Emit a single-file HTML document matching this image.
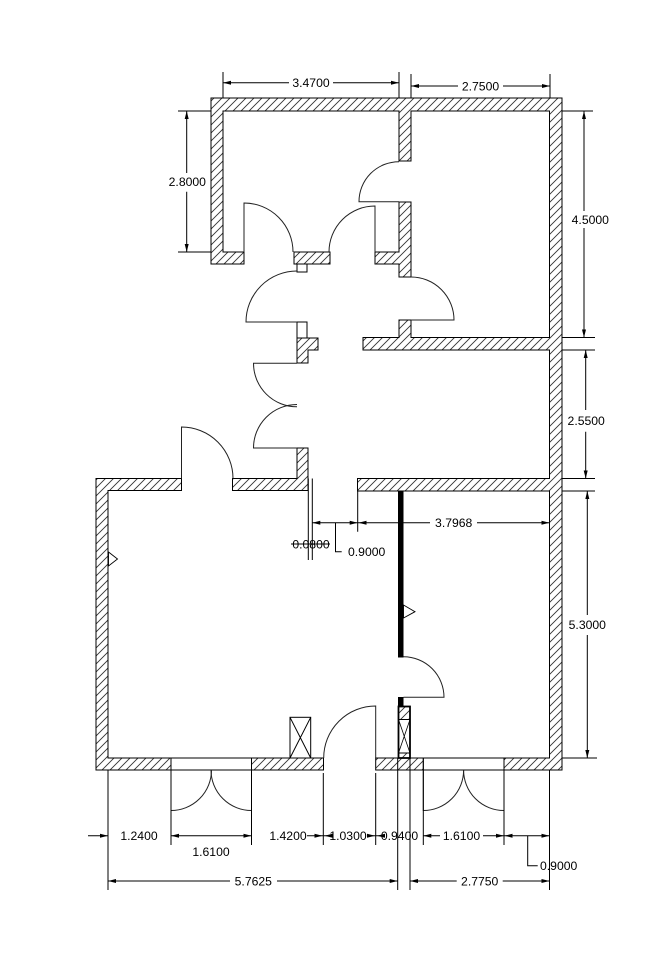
<!DOCTYPE html>
<html><head><meta charset="utf-8"><style>
html,body{margin:0;padding:0;background:#fff;}
svg{display:block;}
text{font-family:"Liberation Sans",Arial,sans-serif;font-size:12.2px;fill:#000;}
</style></head><body>
<svg width="670" height="960" viewBox="0 0 670 960" xmlns="http://www.w3.org/2000/svg">
<defs>
<pattern id="h" patternUnits="userSpaceOnUse" width="8" height="8">
<path d="M0,8 L8,0 M-2,2 L2,-2 M6,10 L10,6" stroke="#333" stroke-width="0.9"/>
</pattern>
</defs>
<rect width="670" height="960" fill="#fff"/>

<!-- walls -->
<g fill="url(#h)" stroke="#000" stroke-width="1">
<path d="M211,98 L562,98 L562,770 L504,770 L504,758 L549.5,758 L549.5,491 L357.5,491 L357.5,478.5 L549.5,478.5 L549.5,350 L363,350 L363,337.5 L399,337.5 L399,320 L411,320 L411,337.5 L549.5,337.5 L549.5,111 L411,111 L411,161 L399,161 L399,111 L223,111 L223,252 L244,252 L244,264 L211,264 Z"/>
<path d="M375,252 L399,252 L399,202 L411,202 L411,277 L399,277 L399,264 L375,264 Z"/>
<rect x="294" y="252" width="36" height="12"/>
<path d="M297,338 L318,338 L318,350 L308,350 L308,363 L297,363 Z"/>
<path d="M96,478.5 L181.5,478.5 L181.5,490.5 L108,490.5 L108,758 L171,758 L171,770 L96,770 Z"/>
<path d="M232.5,478.5 L297,478.5 L297,448 L308,448 L308,490.5 L232.5,490.5 Z"/>
<rect x="251.5" y="758" width="72" height="12"/>
<rect x="375.7" y="758" width="47.6" height="12"/>
</g>

<!-- small frames / openings -->
<g fill="none" stroke="#000" stroke-width="1">
<rect x="297" y="264" width="10" height="8"/>
<rect x="297" y="322" width="10" height="16"/>
<rect x="171" y="758" width="80.5" height="12"/>
<rect x="423.3" y="758" width="80.7" height="12"/>
<rect x="290" y="717.3" width="20.7" height="40.7"/>
<path d="M290,717.3 L310.7,758 M310.7,717.3 L290,758"/>
</g>

<!-- black bar and column -->
<rect x="398" y="490.5" width="5.5" height="167" fill="#000"/>
<rect x="398" y="697" width="5.5" height="10" fill="#000"/>
<rect x="398" y="706.5" width="12" height="13" fill="url(#h)"/>
<rect x="398" y="753" width="12" height="5" fill="url(#h)"/>
<g fill="none" stroke="#000">
<rect x="398.5" y="706.5" width="11.5" height="51.5" stroke-width="1.8"/>
<path d="M398.5,719.5 L410,719.5 M398.5,753 L410,753" stroke-width="1"/>
<path d="M398.5,719.5 L410,753 M410,719.5 L398.5,753" stroke-width="0.8"/>
</g>

<!-- triangles -->
<polygon points="108.5,552 117.5,559 108.5,566" fill="#fff" stroke="#000" stroke-width="0.9"/>
<polygon points="403.5,605 415,611.7 403.5,618" fill="#fff" stroke="#000" stroke-width="0.9"/>

<!-- doors -->
<g fill="none" stroke="#222" stroke-width="1">
<path d="M244,252 L244,203 A49,49 0 0 1 293,252"/>
<path d="M375,252 L375,206 A46,46 0 0 0 329,252"/>
<path d="M399,201.7 L359,201.7 A40,40 0 0 1 399,161.7"/>
<path d="M411,320 L454,320 A43,43 0 0 0 411,277"/>
<path d="M297,322 L246,322 A51,51 0 0 1 297,271"/>
<path d="M297,363.3 L253.5,363.3 A43.5,43.5 0 0 0 297,406.8"/>
<path d="M297,448 L253.5,448 A43.5,43.5 0 0 1 297,404.5"/>
<path d="M181.5,478.5 L181.5,427 A51.5,51.5 0 0 1 233,478.5"/>
<path d="M403.5,697.3 L444,697.3 A40.5,40.5 0 0 0 403.5,656.8"/>
<path d="M375.7,758 L375.7,706 A52,52 0 0 0 323.7,758"/>
<path d="M171,770 L171,810.5 A40.5,40.5 0 0 0 211.5,770"/>
<path d="M251.5,770 L251.5,810.5 A40.5,40.5 0 0 1 211,770"/>
<path d="M423.3,770 L423.3,810.5 A40.3,40.3 0 0 0 463.6,770"/>
<path d="M504,770 L504,810.5 A40.4,40.4 0 0 1 463.6,770"/>
</g>

<!-- extension & dimension lines -->
<g fill="none" stroke="#000" stroke-width="1">
<path d="M223,72 L223,98 M399,72 L399,98 M411,74 L411,98 M550,74 L550,98"/>
<path d="M223,82.7 L289,82.7 M333,82.7 L399,82.7"/>
<path d="M411,86 L458,86 M503,86 L550,86"/>
<path d="M178,111 L211,111 M178,252 L211,252"/>
<path d="M186.7,111 L186.7,173 M186.7,191.7 L186.7,252"/>
<path d="M562,111 L593,111 M562,337.5 L595,337.5 M562,350 L595,350 M562,478.5 L595,478.5 M562,491 L595,491 M562,758 L597,758"/>
<path d="M584,111 L584,211 M584,228 L584,337.5"/>
<path d="M585.7,350 L585.7,410 M585.7,431.7 L585.7,478.5"/>
<path d="M587.3,491 L587.3,615 M587.3,635 L587.3,758"/>
<path d="M308.3,478.5 L308.3,560 M312.3,478.5 L312.3,560 M357.7,491 L357.7,531.7"/>
<path d="M312.3,522.7 L357.7,522.7 M357.7,522.7 L430,522.7 M477,522.7 L549.5,522.7"/>
<path d="M335.5,522.7 L335.5,551.7 L341.7,551.7"/>
<path d="M291,544 L330,544"/>
<path d="M108,770 L108,890 M171,770 L171,845 M251.5,770 L251.5,845 M323.3,773 L323.3,845 M375.7,773 L375.7,845 M397.7,758 L397.7,890 M410,758 L410,890 M423.3,770 L423.3,845 M504,770 L504,845 M549.5,770 L549.5,890"/>
<path d="M88,835.7 L108,835.7"/>
<path d="M171,835.7 L251.5,835.7"/>
<path d="M307,835.7 L323.3,835.7 M323.3,835.7 L331,835.7 M368,835.7 L375.7,835.7 M375.7,835.7 L384,835.7"/>
<path d="M423.3,835.7 L440,835.7 M483,835.7 L504,835.7 M504,835.7 L549.5,835.7"/>
<path d="M527.7,835.7 L527.7,865.7 L537.7,865.7"/>
<path d="M108,881 L230,881 M277,881 L397.7,881"/>
<path d="M410,881 L456.7,881 M502.7,881 L549.5,881"/>
</g>

<!-- arrowheads -->
<g fill="#000" stroke="none">
<polygon points="223,82.7 231,80.7 231,84.7"/>
<polygon points="399,82.7 391,80.7 391,84.7"/>
<polygon points="411,86 419,84 419,88"/>
<polygon points="550,86 542,84 542,88"/>
<polygon points="186.7,111 184.7,119 188.7,119"/>
<polygon points="186.7,252 184.7,244 188.7,244"/>
<polygon points="584,111 582,119 586,119"/>
<polygon points="584,337.5 582,329.5 586,329.5"/>
<polygon points="585.7,350 583.7,358 587.7,358"/>
<polygon points="585.7,478.5 583.7,470.5 587.7,470.5"/>
<polygon points="587.3,491 585.3,499 589.3,499"/>
<polygon points="587.3,758 585.3,750 589.3,750"/>
<polygon points="312.3,522.7 320.3,520.7 320.3,524.7"/>
<polygon points="357.7,522.7 349.7,520.7 349.7,524.7"/>
<polygon points="358.5,522.7 366.5,520.7 366.5,524.7"/>
<polygon points="549.5,522.7 541.5,520.7 541.5,524.7"/>
<polygon points="108,835.7 100,833.7 100,837.7"/>
<polygon points="171,835.7 179,833.7 179,837.7"/>
<polygon points="251.5,835.7 243.5,833.7 243.5,837.7"/>
<polygon points="322.5,835.7 314.5,833.7 314.5,837.7"/>
<polygon points="324.5,835.7 332.5,833.7 332.5,837.7"/>
<polygon points="375,835.7 367,833.7 367,837.7"/>
<polygon points="377,835.7 385,833.7 385,837.7"/>
<polygon points="423.3,835.7 431.3,833.7 431.3,837.7"/>
<polygon points="504,835.7 496,833.7 496,837.7"/>
<polygon points="504.5,835.7 512.5,833.7 512.5,837.7"/>
<polygon points="549.5,835.7 541.5,833.7 541.5,837.7"/>
<polygon points="108,881 116,879 116,883"/>
<polygon points="397.7,881 389.7,879 389.7,883"/>
<polygon points="410,881 418,879 418,883"/>
<polygon points="549.5,881 541.5,879 541.5,883"/>
</g>

<!-- labels -->
<g text-anchor="middle">
<text x="311" y="87.2">3.4700</text>
<text x="480.5" y="90.5">2.7500</text>
<text x="187.3" y="186.2">2.8000</text>
<text x="590.3" y="223.8">4.5000</text>
<text x="586.2" y="425.2">2.5500</text>
<text x="587.3" y="628.8">5.3000</text>
<text x="453.7" y="527.2">3.7968</text>
<text x="311" y="548.5">0.0800</text>
<text x="139" y="840.2">1.2400</text>
<text x="211" y="856.2">1.6100</text>
<text x="288" y="840.2">1.4200</text>
<text x="348" y="840.2">1.0300</text>
<text x="399.5" y="840.2">0.9400</text>
<text x="461.5" y="840.2">1.6100</text>
<text x="253.3" y="885.5">5.7625</text>
<text x="479.7" y="885.5">2.7750</text>
</g>
<text x="348" y="556.2">0.9000</text>
<text x="540" y="870.2">0.9000</text>
</svg>
</body></html>
